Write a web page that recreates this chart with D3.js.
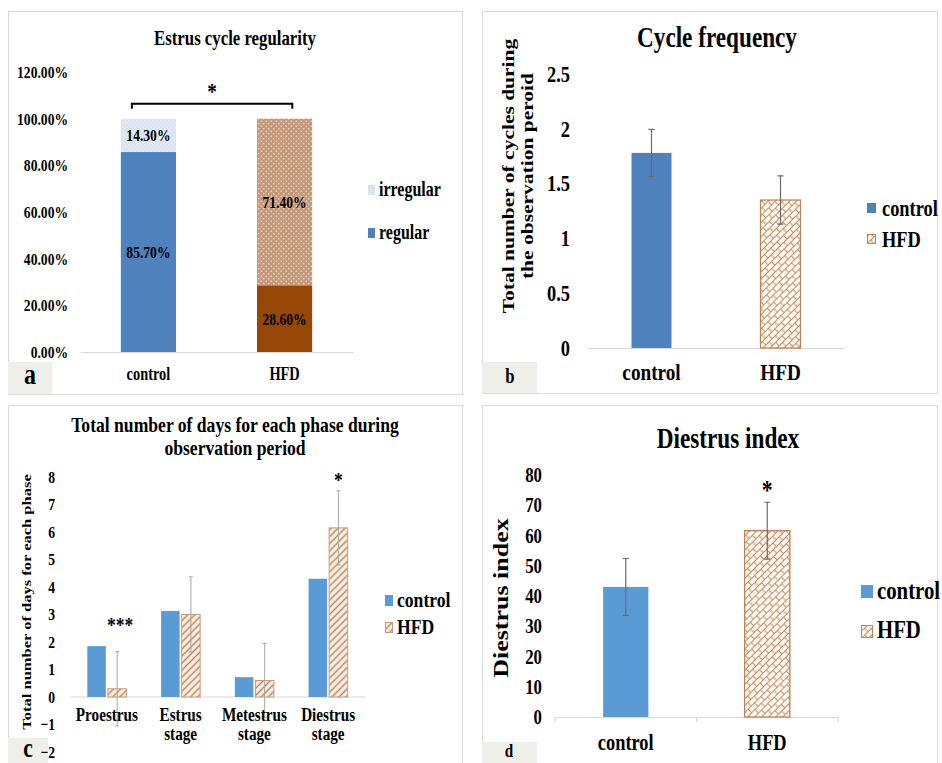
<!DOCTYPE html>
<html><head><meta charset="utf-8">
<script src="https://cdn.jsdelivr.net/npm/d3@7"></script>
<style>
html,body{margin:0;padding:0;background:#fff;}
svg text{font-family:"Liberation Serif","Times New Roman",serif;font-weight:bold;fill:#000;}
</style></head><body>
<svg id="chart" width="942" height="763"></svg>
<script>
// ---------------- data ----------------
const groups = ["control", "HFD"];

// (a) Estrus cycle regularity
const regularPct = [85.7, 28.6];
const irregularPct = [14.3, 71.4];
const pctTicks = [0, 20, 40, 60, 80, 100, 120];

// (b) Cycle frequency
const cycleMean = [1.78, 1.35];
const cycleErr = [0.215, 0.22];
const cycleTicks = [0, 0.5, 1, 1.5, 2, 2.5];

// (c) Days for each phase
const phases = ["Proestrus", "Estrus stage", "Metestrus stage", "Diestrus stage"];
const phaseLines = [["Proestrus"], ["Estrus", "stage"], ["Metestrus", "stage"], ["Diestrus", "stage"]];
const controlDays = [1.85, 3.13, 0.72, 4.3];
const hfdDays = [0.3, 3.0, 0.6, 6.15];
const hfdDaysErr = [1.35, 1.37, 1.35, 1.35];
const dayTicks = [-2, -1, 0, 1, 2, 3, 4, 5, 6, 7, 8];

// (d) Diestrus index
const diestrusMean = [43, 61.6];
const diestrusErr = [9.4, 9.4];
const indexTicks = [0, 10, 20, 30, 40, 50, 60, 70, 80];

// ---------------- drawing ----------------
const SX = 0.8; // horizontal glyph compression seen in the figure
const svg = d3.select("#chart");
const defs = svg.append("defs");

// patterns
(function () {
  let p = defs.append("pattern").attr("id", "dotsBlue").attr("patternUnits", "userSpaceOnUse").attr("width", 4).attr("height", 4);
  p.append("rect").attr("width", 4).attr("height", 4).attr("fill", "#dae4f0");
  p.append("circle").attr("cx", 1).attr("cy", 1).attr("r", 0.6).attr("fill", "#fff");
  p.append("circle").attr("cx", 3).attr("cy", 3).attr("r", 0.6).attr("fill", "#fff");

  p = defs.append("pattern").attr("id", "dotsTan").attr("patternUnits", "userSpaceOnUse").attr("width", 5).attr("height", 5);
  p.append("rect").attr("width", 5).attr("height", 5).attr("fill", "#c49a7b");
  p.append("circle").attr("cx", 1.25).attr("cy", 1.25).attr("r", 0.75).attr("fill", "#f4e3d6");
  p.append("circle").attr("cx", 3.75).attr("cy", 3.75).attr("r", 0.75).attr("fill", "#f4e3d6");

  p = defs.append("pattern").attr("id", "brick").attr("patternUnits", "userSpaceOnUse")
    .attr("width", 9).attr("height", 10).attr("patternTransform", "rotate(-45)");
  p.append("rect").attr("width", 9).attr("height", 10).attr("fill", "#fffaf3");
  p.append("path").attr("d", "M0,0.5H9M0,5.5H9M0.5,0V5M5,5V10")
    .attr("stroke", "#c98a5e").attr("stroke-width", 1).attr("fill", "none");

  p = defs.append("pattern").attr("id", "hatch").attr("patternUnits", "userSpaceOnUse")
    .attr("width", 6).attr("height", 5).attr("patternTransform", "rotate(-45)");
  p.append("rect").attr("width", 6).attr("height", 5).attr("fill", "#fcf1e4");
  p.append("path").attr("d", "M0,2.5H6").attr("stroke", "#b88b69").attr("stroke-width", 1.6);
})();

function txt(g, x, y, s, size, anchor = "middle", rot = 0) {
  return g.append("text")
    .attr("transform", `translate(${x},${y}) scale(${SX},1)` + (rot ? ` rotate(${rot})` : ""))
    .attr("text-anchor", anchor)
    .style("font-size", size + "px")
    .text(s);
}

function yAxis(g, scale, ticks, x, size, fmt) {
  const a = g.append("g").attr("transform", `translate(${x},0)`)
    .call(d3.axisLeft(scale).tickValues(ticks).tickSize(0).tickPadding(0).tickFormat(fmt));
  a.select(".domain").remove();
  a.selectAll("text").attr("x", 0).attr("transform", `scale(${SX},1)`)
    .style("font-size", size + "px").attr("fill", "#000")
    .style("font-family", '"Liberation Serif","Times New Roman",serif').style("font-weight", "bold");
  return a;
}

function xAxis(g, scale, y, labelY, size) {
  const a = g.append("g").attr("transform", `translate(0,${y})`)
    .call(d3.axisBottom(scale).tickSize(0).tickSizeOuter(0));
  a.select(".domain").attr("stroke", "#d9d9d9").attr("stroke-width", 1.2);
  a.selectAll("text").attr("y", labelY - y).attr("dy", 0).attr("transform", `scale(${SX},1)`)
    .style("font-size", size + "px").attr("fill", "#000")
    .style("font-family", '"Liberation Serif","Times New Roman",serif').style("font-weight", "bold");
  return a;
}

function errBar(g, x, y0, y1, cap, color, w) {
  g.append("path")
    .attr("d", `M${x},${y0}V${y1}M${x - cap / 2},${y0}H${x + cap / 2}M${x - cap / 2},${y1}H${x + cap / 2}`)
    .attr("stroke", color).attr("stroke-width", w).attr("fill", "none");
}

// frames
const frames = [
  { x: 8.5, y: 11.5, w: 454, h: 383 },
  { x: 482.5, y: 11.5, w: 455, h: 382 },
  { x: 8.5, y: 405.5, w: 454, h: 362 },
  { x: 482.5, y: 405.5, w: 455, h: 362 }
];
svg.selectAll("rect.frame").data(frames).enter().append("rect").attr("class", "frame")
  .attr("x", d => d.x).attr("y", d => d.y).attr("width", d => d.w).attr("height", d => d.h)
  .attr("fill", "#fff").attr("stroke", "#d9d9d9").attr("stroke-width", 1);

// panel letter boxes (background)
const letters = [
  { x: 8, y: 362, w: 44, h: 32, t: "a", tx: 30, ty: 384, s: 30 },
  { x: 482, y: 362, w: 55, h: 31, t: "b", tx: 510, ty: 383, s: 21 },
  { x: 8, y: 738, w: 40, h: 25, t: "c", tx: 28, ty: 757, s: 27 },
  { x: 482, y: 742, w: 55, h: 21, t: "d", tx: 509, ty: 757, s: 19 }
];
letters.forEach(d => {
  svg.append("rect").attr("x", d.x).attr("y", d.y).attr("width", d.w).attr("height", d.h).attr("fill", "#efefea");
  txt(svg, d.tx, d.ty, d.t, d.s);
});

// ===== (a) =====
{
  const g = svg.append("g");
  const y = d3.scaleLinear().domain([0, 120]).range([352, 72]);
  const x = d3.scaleBand().domain(groups).range([80, 353]).paddingInner(0.595).paddingOuter(0.3);
  const bw = x.bandwidth();
  const regColors = ["#4f81bd", "#974706"];
  const irrFills = ["url(#dotsBlue)", "url(#dotsTan)"];

  txt(g, 235, 45, "Estrus cycle regularity", 21);
  yAxis(g, y, pctTicks, 68, 17, d => d.toFixed(2) + "%");
  xAxis(g, x, 352, 380, 18);

  groups.forEach((k, i) => {
    g.append("rect").attr("x", x(k)).attr("width", bw)
      .attr("y", y(regularPct[i])).attr("height", y(0) - y(regularPct[i])).attr("fill", regColors[i]);
    g.append("rect").attr("x", x(k)).attr("width", bw)
      .attr("y", y(regularPct[i] + irregularPct[i])).attr("height", y(regularPct[i]) - y(regularPct[i] + irregularPct[i]))
      .attr("fill", irrFills[i]);
    txt(g, x(k) + bw / 2, y(regularPct[i] / 2) + 6, regularPct[i].toFixed(2) + "%", 17).attr("fill", "#141432");
    txt(g, x(k) + bw / 2, y(regularPct[i] + irregularPct[i] / 2) + 6, irregularPct[i].toFixed(2) + "%", 17).attr("fill", "#141432");
  });

  // significance bracket
  const bl = x("control") + bw * 0.2, br = x("HFD") + bw * 0.64;
  g.append("path").attr("d", `M${bl},${y(104.3)}V${y(106.4)}H${br}V${y(104.3)}`)
    .attr("stroke", "#000").attr("stroke-width", 2).attr("fill", "none");
  txt(g, (bl + br) / 2, y(108.5), "*", 24);

  // legend
  g.append("rect").attr("x", 368).attr("y", 185).attr("width", 7).attr("height", 10).attr("fill", "#dae4f0");
  txt(g, 379, 196, "irregular", 20, "start");
  g.append("rect").attr("x", 368).attr("y", 228).attr("width", 7).attr("height", 10).attr("fill", "#4f81bd");
  txt(g, 379, 239, "regular", 20, "start");
}

// ===== (b) =====
{
  const g = svg.append("g");
  const y = d3.scaleLinear().domain([0, 2.5]).range([348, 74]);
  const x = d3.scaleBand().domain(groups).range([587, 845]).paddingInner(0.69).paddingOuter(0.345);
  const bw = x.bandwidth();

  txt(g, 717, 47, "Cycle frequency", 29);
  txt(g, 514, 176, "Total number of cycles during", 21.5, "middle", -90);
  txt(g, 533, 176, "the observation peroid", 21.5, "middle", -90);
  yAxis(g, y, cycleTicks, 570, 23, d3.format(""));
  xAxis(g, x, 348, 380, 24);

  groups.forEach((k, i) => {
    const r = g.append("rect").attr("x", x(k)).attr("width", bw)
      .attr("y", y(cycleMean[i])).attr("height", y(0) - y(cycleMean[i]));
    if (i === 0) r.attr("fill", "#4f81bd");
    else r.attr("fill", "url(#brick)").attr("stroke", "#c0825a").attr("stroke-width", 1.3);
    errBar(g, x(k) + bw / 2, y(cycleMean[i] - cycleErr[i]), y(cycleMean[i] + cycleErr[i]), 6, "#6b6b6b", 1.2);
  });

  g.append("rect").attr("x", 867).attr("y", 203).attr("width", 9).attr("height", 10).attr("fill", "#4f81bd");
  txt(g, 882, 216, "control", 23, "start");
  g.append("rect").attr("x", 867.5).attr("y", 234.5).attr("width", 8).attr("height", 9)
    .attr("fill", "url(#brick)").attr("stroke", "#c0825a").attr("stroke-width", 1);
  txt(g, 882, 247, "HFD", 23, "start");
}

// ===== (c) =====
{
  const g = svg.append("g");
  const y = d3.scaleLinear().domain([-2, 8]).range([752, 477]);
  const x = d3.scaleBand().domain(phases).range([70, 365]).paddingInner(0.47).paddingOuter(0.235);
  const xi = d3.scaleBand().domain(groups).range([0, x.bandwidth()]).paddingInner(0.1);
  const bw = xi.bandwidth();

  txt(g, 235, 432, "Total number of days for each phase during", 22);
  txt(g, 235, 455, "observation period", 22);
  txt(g, 31, 602, "Total number of days for each phase", 16.5, "middle", -90);
  yAxis(g, y, dayTicks, 55, 17, d3.format(""));

  // baseline at zero
  g.append("line").attr("x1", x.range()[0]).attr("x2", x.range()[1])
    .attr("y1", y(0)).attr("y2", y(0)).attr("stroke", "#d9d9d9").attr("stroke-width", 1.2);

  phases.forEach((p, i) => {
    const x0 = x(p);
    g.append("rect").attr("x", x0 + xi("control")).attr("width", bw)
      .attr("y", y(controlDays[i])).attr("height", y(0) - y(controlDays[i])).attr("fill", "#5b9bd5");
    g.append("rect").attr("x", x0 + xi("HFD")).attr("width", bw)
      .attr("y", y(hfdDays[i])).attr("height", y(0) - y(hfdDays[i]))
      .attr("fill", "url(#hatch)").attr("stroke", "#c99a78").attr("stroke-width", 1);
    errBar(g, x0 + xi("HFD") + bw / 2, y(hfdDays[i] - hfdDaysErr[i]), y(hfdDays[i] + hfdDaysErr[i]), 4, "#a6a6a6", 1);
    phaseLines[i].forEach((ln, j) => txt(g, x0 + x.bandwidth() / 2, 721 + j * 19, ln, 19));
  });

  txt(g, x("Proestrus") + xi("HFD") + bw / 2 + 3, 632, "***", 22);
  txt(g, x("Diestrus stage") + xi("HFD") + bw / 2, 487, "*", 22);

  g.append("rect").attr("x", 385).attr("y", 595).attr("width", 8).attr("height", 11).attr("fill", "#5b9bd5");
  txt(g, 397, 607, "control", 22, "start");
  g.append("rect").attr("x", 385.5).attr("y", 622.5).attr("width", 7).attr("height", 10)
    .attr("fill", "url(#hatch)").attr("stroke", "#c99a78").attr("stroke-width", 1);
  txt(g, 397, 634, "HFD", 22, "start");
}

// ===== (d) =====
{
  const g = svg.append("g");
  const y = d3.scaleLinear().domain([0, 80]).range([717, 475]);
  const x = d3.scaleBand().domain(groups).range([555, 838]).paddingInner(0.68).paddingOuter(0.34);
  const bw = x.bandwidth();

  txt(g, 728, 448, "Diestrus index", 29);
  txt(g, 508, 598, "Diestrus index", 26, "middle", -90);
  yAxis(g, y, indexTicks, 542, 21, d3.format(""));
  xAxis(g, x, 717, 750, 23);
  // category boundary ticks
  const bounds = [x.range()[0], (x("control") + bw + x("HFD")) / 2, x.range()[1]];
  g.selectAll("line.bt").data(bounds).enter().append("line")
    .attr("x1", d => d).attr("x2", d => d).attr("y1", 717).attr("y2", 722)
    .attr("stroke", "#d9d9d9").attr("stroke-width", 1.2);

  groups.forEach((k, i) => {
    const r = g.append("rect").attr("x", x(k)).attr("width", bw)
      .attr("y", y(diestrusMean[i])).attr("height", y(0) - y(diestrusMean[i]));
    if (i === 0) r.attr("fill", "#5b9bd5");
    else r.attr("fill", "url(#brick)").attr("stroke", "#c0825a").attr("stroke-width", 1.3);
    errBar(g, x(k) + bw / 2, y(diestrusMean[i] - diestrusErr[i]), y(diestrusMean[i] + diestrusErr[i]), 6, "#6b6b6b", 1.2);
  });
  txt(g, x("HFD") + bw / 2, 499, "*", 27);

  g.append("rect").attr("x", 861).attr("y", 585).attr("width", 12).attr("height", 13).attr("fill", "#5b9bd5");
  txt(g, 877, 599, "control", 26, "start");
  g.append("rect").attr("x", 861.5).attr("y", 625.5).attr("width", 11).attr("height", 12)
    .attr("fill", "url(#brick)").attr("stroke", "#c0825a").attr("stroke-width", 1);
  txt(g, 877, 638, "HFD", 26, "start");
}
</script>
</body></html>
